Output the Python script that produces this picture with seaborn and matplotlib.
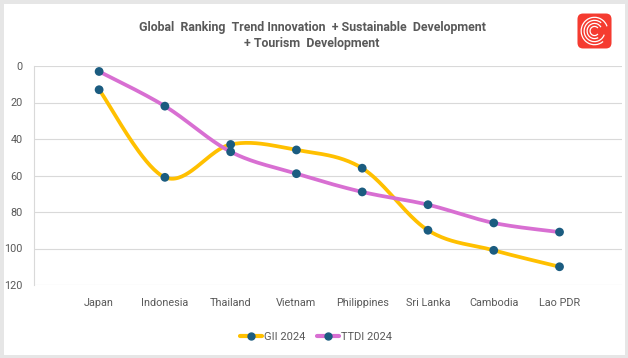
import numpy as np
import pandas as pd
import seaborn as sns
import matplotlib
matplotlib.use("Agg")
import matplotlib.pyplot as plt
from matplotlib.patches import FancyBboxPatch, Rectangle, Arc
from matplotlib.lines import Line2D

# ---------------- data ----------------
countries = ["Japan", "Indonesia", "Thailand", "Vietnam", "Philippines",
             "Sri Lanka", "Cambodia", "Lao PDR"]
gii_2024 = [13, 61, 43, 46, 56, 90, 101, 110]
ttdi_2024 = [3, 22, 47, 59, 69, 76, 86, 91]
y_ticks = [0, 20, 40, 60, 80, 100, 120]
series_names = ["GII 2024", "TTDI 2024"]
title = "Global  Ranking  Trend Innovation  + Sustainable  Development\n+ Tourism  Development"

# ---------------- style ----------------
sns.set_style("white")
plt.rcParams["font.family"] = ["Roboto", "DejaVu Sans"]
TXT = "#595959"
GRID = "#d9d9d9"
COL_GII = "#FFC000"
COL_TTDI = "#D86FD2"
MARK = "#1B5C80"

W, H = 628, 358
fig = plt.figure(figsize=(W / 100, H / 100), dpi=100)


def smooth(vals, n=40):
    """Excel-style smoothed line (Bezier with Catmull-Rom control points)."""
    pts = np.column_stack([np.arange(len(vals)), vals]).astype(float)
    out = []
    for i in range(len(pts) - 1):
        p0 = pts[max(i - 1, 0)]
        p1 = pts[i]
        p2 = pts[i + 1]
        p3 = pts[min(i + 2, len(pts) - 1)]
        c1 = p1 + (p2 - p0) / 6
        c2 = p2 - (p3 - p1) / 6
        t = np.linspace(0, 1, n)[:, None]
        seg = (1 - t) ** 3 * p1 + 3 * (1 - t) ** 2 * t * c1 + 3 * (1 - t) * t ** 2 * c2 + t ** 3 * p2
        out.append(seg if i == 0 else seg[1:])
    return np.vstack(out)


# main axes
left, right, top, bottom = 34, 622, 66, 285
ax = fig.add_axes([left / W, 1 - bottom / H, (right - left) / W, (bottom - top) / H])

x_idx = np.arange(len(countries))
for vals, col in [(gii_2024, COL_GII), (ttdi_2024, COL_TTDI)]:
    sm = smooth(vals)
    df = pd.DataFrame({"x": sm[:, 0], "y": sm[:, 1]})
    sns.lineplot(data=df, x="x", y="y", color=col, lw=2.7, ax=ax, sort=False,
                 legend=False, zorder=2, solid_capstyle="round")
    sns.scatterplot(x=x_idx, y=vals, color=MARK, s=40, edgecolor="none",
                    ax=ax, zorder=3, legend=False)

ax.set_xlim(-0.99, 7.95)
ax.set_ylim(120, 0)
ax.set_yticks(y_ticks)
ax.set_yticklabels([str(v) for v in y_ticks])
ax.set_xticks(x_idx)
ax.set_xticklabels(countries)
ax.set_xlabel("")
ax.set_ylabel("")
ax.tick_params(axis="both", length=0, labelsize=7.8, colors=TXT)
ax.tick_params(axis="y", pad=8)
ax.tick_params(axis="x", pad=9)
ax.yaxis.grid(True, color=GRID, lw=0.8)
ax.xaxis.grid(False)
for s in ["top", "right", "bottom"]:
    ax.spines[s].set_visible(False)
ax.spines["left"].set_color(GRID)
ax.spines["left"].set_linewidth(0.8)
ax.set_axisbelow(True)

# title
fig.text(312 / W, 1 - 35.5 / H, title, ha="center", va="center",
         fontsize=8.9, fontweight="bold", color=TXT, linespacing=1.3)

# legend
handles = [
    Line2D([0], [0], color=COL_GII, lw=3, marker="o", markersize=5,
           markerfacecolor=MARK, markeredgecolor=MARK),
    Line2D([0], [0], color=COL_TTDI, lw=3, marker="o", markersize=5,
           markerfacecolor=MARK, markeredgecolor=MARK),
]
leg = fig.legend(handles, series_names, loc="center", ncol=2,
                 bbox_to_anchor=(316 / W, 1 - 337 / H), frameon=False,
                 fontsize=8, handlelength=2.0, handletextpad=0.2,
                 columnspacing=1.0)
for t in leg.get_texts():
    t.set_color(TXT)

# outer border
fig.patches.append(Rectangle((0, 0), 1, 1, transform=fig.transFigure,
                             fill=False, edgecolor="#e6e6e6", lw=5, zorder=10))

# logo
lax = fig.add_axes([576 / W, 1 - 50 / H, 37 / W, 38 / H])
lax.set_xlim(0, 1)
lax.set_ylim(0, 1)
lax.axis("off")
lax.add_patch(FancyBboxPatch((0.04, 0.04), 0.92, 0.92,
                             boxstyle="round,pad=0,rounding_size=0.15",
                             facecolor="#F53B30", edgecolor="none"))
for r, (a1, a2) in zip([0.12, 0.2, 0.28, 0.36],
                       [(40, 320), (30, 300), (50, 340), (20, 310)]):
    lax.add_patch(Arc((0.5, 0.5), 2 * r, 2 * r, theta1=a1, theta2=a2,
                      color="white", lw=0.9))

fig.savefig("out.png", dpi=100)
